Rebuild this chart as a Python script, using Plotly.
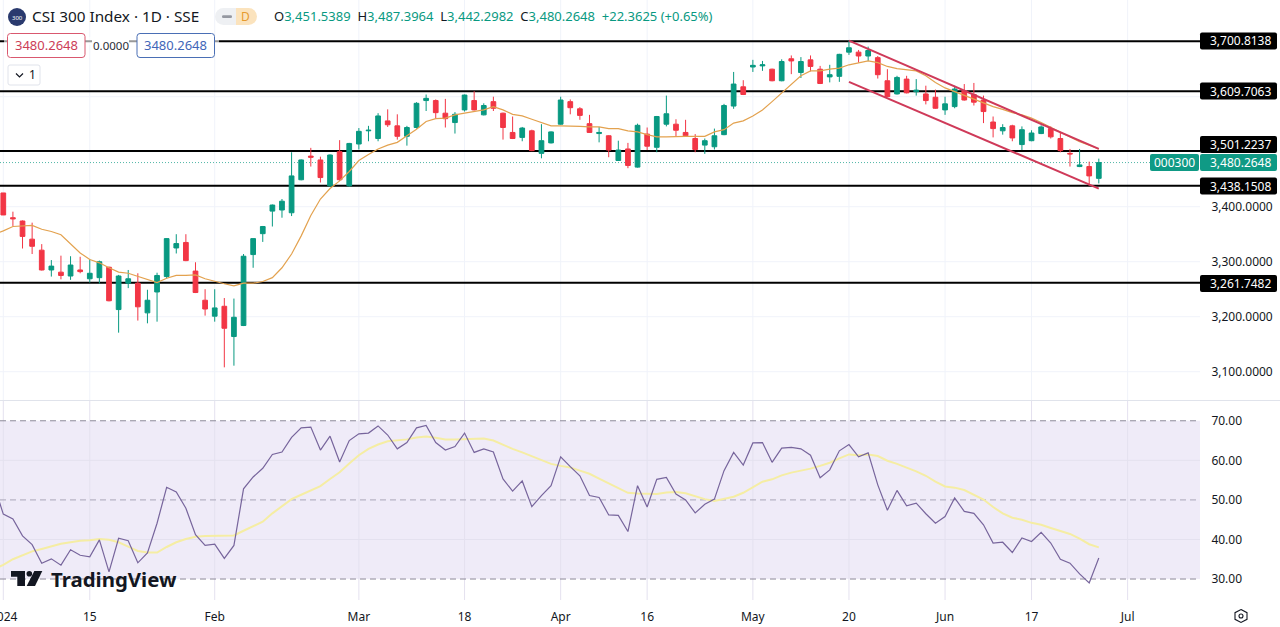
import plotly.graph_objects as go

# daily bars, CSI 300, 2 Jan - 26 Jun 2024 (trading days only)
OPEN = [3425, 3380, 3374, 3341, 3321, 3285, 3281, 3274, 3285, 3269,
        3271, 3290, 3213, 3261, 3261, 3207, 3245, 3273, 3325, 3335,
        3283, 3230, 3201, 3219, 3164, 3184, 3313, 3351, 3392, 3394,
        3389, 3449, 3492, 3485, 3438, 3500, 3438, 3514, 3538, 3524,
        3556, 3547, 3528, 3544, 3593, 3593, 3570, 3553, 3576, 3593,
        3567, 3591, 3570, 3535, 3526, 3538, 3497, 3516, 3550, 3591,
        3578, 3551, 3533, 3529, 3484, 3505, 3472, 3532, 3508, 3550,
        3550, 3535, 3524, 3512, 3509, 3531, 3583, 3618, 3654, 3656,
        3650, 3629, 3669, 3644, 3667, 3650, 3636, 3637, 3681, 3681,
        3674, 3671, 3629, 3605, 3632, 3609, 3605, 3599, 3576, 3582,
        3611, 3604, 3594, 3554, 3538, 3547, 3513, 3520, 3533, 3542,
        3524, 3497, 3473, 3473, 3451.54]
HIGH = [3425, 3391, 3375, 3371, 3332, 3303, 3311, 3310, 3309, 3305,
        3302, 3291, 3276, 3285, 3279, 3249, 3280, 3343, 3350, 3350,
        3299, 3250, 3250, 3234, 3233, 3314, 3342, 3365, 3404, 3414,
        3499, 3486, 3507, 3491, 3495, 3521, 3516, 3543, 3547, 3570,
        3577, 3568, 3547, 3590, 3604, 3595, 3596, 3572, 3604, 3610,
        3588, 3600, 3571, 3564, 3545, 3540, 3550, 3537, 3600, 3595,
        3581, 3567, 3545, 3530, 3520, 3516, 3551, 3544, 3565, 3602,
        3559, 3558, 3532, 3524, 3542, 3587, 3645, 3630, 3667, 3665,
        3651, 3668, 3675, 3672, 3675, 3656, 3658, 3678, 3702, 3685,
        3691, 3674, 3650, 3638, 3638, 3632, 3620, 3613, 3600, 3620,
        3623, 3625, 3602, 3564, 3550, 3549, 3546, 3539, 3548, 3546,
        3534, 3505, 3505, 3482, 3487.40]
LOW = [3385, 3365, 3324, 3314, 3284, 3273, 3268, 3267, 3279, 3262,
       3260, 3228, 3171, 3252, 3193, 3188, 3191, 3269, 3315, 3301,
       3243, 3202, 3191, 3108, 3111, 3183, 3289, 3336, 3364, 3380,
       3383, 3448, 3473, 3444, 3436, 3447, 3436, 3504, 3519, 3519,
       3545, 3522, 3511, 3542, 3574, 3561, 3544, 3533, 3573, 3575,
       3566, 3574, 3522, 3523, 3519, 3501, 3488, 3515, 3549, 3568,
       3558, 3534, 3517, 3490, 3483, 3470, 3471, 3503, 3499, 3546,
       3528, 3527, 3499, 3496, 3504, 3530, 3578, 3603, 3645, 3647,
       3628, 3628, 3641, 3634, 3646, 3623, 3626, 3627, 3676, 3662,
       3665, 3633, 3599, 3604, 3606, 3602, 3586, 3578, 3567, 3579,
       3593, 3584, 3552, 3526, 3531, 3519, 3503, 3519, 3532, 3524,
       3499, 3473, 3472, 3438, 3442.30]
CLOSE = [3385, 3378, 3346, 3328, 3285, 3292, 3275, 3294, 3282, 3279,
         3300, 3229, 3274, 3269, 3218, 3230, 3275, 3342, 3333, 3302,
         3244, 3214, 3216, 3179, 3199, 3310, 3342, 3364, 3403, 3410,
         3456, 3485, 3490, 3453, 3494, 3449, 3515, 3537, 3539, 3565,
         3549, 3528, 3544, 3588, 3597, 3571, 3560, 3568, 3603, 3576,
         3584, 3579, 3544, 3524, 3543, 3502, 3520, 3536, 3594, 3580,
         3566, 3535, 3535, 3503, 3503, 3475, 3548, 3510, 3564, 3569,
         3539, 3529, 3504, 3520, 3529, 3584, 3623, 3604, 3657, 3658,
         3629, 3664, 3665, 3664, 3655, 3624, 3640, 3677, 3689, 3674,
         3684, 3640, 3600, 3635, 3607, 3612, 3593, 3579, 3587, 3614,
         3594, 3590, 3573, 3542, 3544, 3525, 3540, 3534, 3545, 3527,
         3502, 3496, 3476, 3456, 3480.26]
# the line series start one bar earlier, just off the left edge
MA = [3350, 3356, 3364, 3365, 3366, 3359, 3355, 3349, 3332, 3316, 3304,
      3298, 3289, 3281, 3279, 3273, 3267, 3262, 3270, 3275, 3275,
      3276, 3269, 3264, 3260, 3256, 3261, 3261, 3264, 3271, 3289,
      3314, 3347, 3384, 3414, 3433, 3447, 3464, 3484, 3495, 3505,
      3512, 3517, 3529, 3541, 3555, 3560, 3561, 3567, 3570, 3573,
      3576, 3582, 3576, 3568, 3565, 3559, 3553, 3547, 3547, 3547,
      3546, 3545, 3545, 3542, 3542, 3538, 3536, 3531, 3527, 3527,
      3528, 3528, 3528, 3528, 3536, 3540, 3552, 3556, 3565, 3576,
      3591, 3607, 3623, 3638, 3647, 3647, 3650, 3652, 3658, 3662,
      3665, 3662, 3655, 3651, 3649, 3647, 3638, 3626, 3616, 3609,
      3602, 3596, 3588, 3582, 3577, 3571, 3567, 3561, 3553, 3544,
      3535, 3526, 3518, 3512, 3505]
RSI = [54.0, 46.4, 45.2, 40.9, 38.7, 34.0, 35.1, 33.5, 37.4, 36.0, 35.6,
       39.9, 31.8, 40.3, 39.7, 34.1, 36.6, 44.1, 53.2, 52.0, 47.9,
       41.2, 38.5, 38.8, 35.2, 38.5, 52.8, 55.8, 58.0, 61.5, 62.1,
       65.8, 68.2, 68.4, 62.6, 66.1, 59.6, 65.0, 66.7, 66.9, 68.7,
       66.4, 62.9, 64.5, 68.2, 68.8, 64.5, 62.6, 63.5, 66.9, 62.0,
       62.9, 62.1, 55.3, 52.2, 54.8, 48.3, 51.1, 53.6, 60.9, 58.4,
       56.1, 51.1, 50.6, 46.2, 46.1, 42.0, 53.6, 48.2, 55.2, 55.7,
       51.5, 50.0, 46.7, 48.9, 50.2, 57.4, 62.0, 58.8, 64.4, 64.5,
       59.5, 63.1, 63.3, 62.9, 61.3, 55.6, 57.6, 62.4, 64.0, 60.9,
       61.9, 53.8, 47.4, 52.4, 48.5, 49.2, 46.5, 44.1, 45.8, 50.5,
       47.1, 46.6, 43.7, 39.1, 39.3, 36.7, 40.4, 39.5, 41.8, 39.1,
       35.0, 34.0, 31.3, 29.0, 35.3]
RSI_MA = [32.5, 33.6, 35.0, 36.1, 37.0, 37.6, 38.2, 38.9, 39.3, 39.7, 39.8,
          40.1, 39.9, 39.3, 38.2, 37.1, 36.7, 36.7, 38.1, 39.3, 40.1,
          40.7, 40.9, 40.9, 41.0, 41.0, 42.2, 43.3, 44.5, 46.6, 48.5,
          50.2, 51.3, 52.4, 53.5, 55.3, 57.0, 59.2, 61.3, 62.9, 64.0,
          64.8, 65.0, 65.3, 65.8, 66.0, 65.7, 65.3, 65.3, 65.4, 65.5,
          65.5, 65.0, 63.9, 62.9, 62.0, 61.1, 60.1, 59.1, 58.6, 58.2,
          57.4, 56.6, 55.4, 54.2, 52.9, 51.8, 51.6, 51.5, 51.5, 51.9,
          52.0, 51.7, 50.9, 50.2, 49.7, 50.2, 50.8, 51.8, 53.1, 54.6,
          55.2, 56.2, 56.9, 57.4, 57.9, 58.6, 59.4, 60.5, 61.5, 61.3,
          61.5, 61.1, 59.9, 59.1, 58.2, 57.2, 56.1, 54.6, 53.4, 53.1,
          52.5, 51.4, 50.1, 48.2, 46.6, 45.5, 45.0, 44.2, 43.7, 42.9,
          42.1, 41.4, 40.2, 38.8, 38.0]

TICK_POS = [0, 9, 22, 37, 48, 58, 67, 78, 88, 98, 107, 117]
TICK_TEXT = ["", "15", "Feb", "Mar", "18", "Apr", "16", "May", "20", "Jun", "17", "Jul"]
PRICE_TICKS = [3100, 3200, 3300, 3400]
PRICE_TICK_TEXT = ["3,100.0000", "3,200.0000", "3,300.0000", "3,400.0000"]
PRICE_GRID = [3100, 3200, 3300, 3400, 3500, 3600, 3700]
RSI_TICKS = [30, 40, 50, 60, 70]
RSI_TICK_TEXT = ["30.00", "40.00", "50.00", "60.00", "70.00"]
RSI_GRID = [40, 60]

LEVELS = [3700.8138, 3609.7063, 3501.2237, 3438.1508, 3261.7482]
LAST_PRICE = 3480.2648
CHANNEL_X = [88, 114]
CHANNEL_UPPER = [3702, 3505]
CHANNEL_LOWER = [3627, 3433]

W, H = 1280, 627
FONT = "Noto Sans"
GREEN = "#089981"
RED = "#f23645"
INK = "#131722"
GRID = "#f0f3fa"
X_RANGE = [-0.343, 124.53]
P_RANGE = [3048.6, 3775.8]
R_RANGE = [24.7, 75.0]


def px(x):
    return x / W


def py(y):
    return 1 - y / H


def rect(x0, y0, x1, y1, fill, line=None, width=1):
    return dict(type="rect", xref="paper", yref="paper", x0=px(x0), x1=px(x1), y0=py(y0), y1=py(y1),
                fillcolor=fill, line=dict(color=line or fill, width=width if line else 0), layer="above")


def rounded(x0, y0, x1, y1, r, fill, line=None):
    p = (f"M{px(x0 + r)} {py(y0)} L{px(x1 - r)} {py(y0)} Q{px(x1)} {py(y0)} {px(x1)} {py(y0 + r)} "
         f"L{px(x1)} {py(y1 - r)} Q{px(x1)} {py(y1)} {px(x1 - r)} {py(y1)} "
         f"L{px(x0 + r)} {py(y1)} Q{px(x0)} {py(y1)} {px(x0)} {py(y1 - r)} "
         f"L{px(x0)} {py(y0 + r)} Q{px(x0)} {py(y0)} {px(x0 + r)} {py(y0)} Z")
    return dict(type="path", xref="paper", yref="paper", path=p, fillcolor=fill, layer="above",
                line=dict(color=line or fill, width=1 if line else 0))


def disc(x0, y0, x1, y1, fill, line=None):
    return dict(type="circle", xref="paper", yref="paper", x0=px(x0), x1=px(x1), y0=py(y1), y1=py(y0),
                fillcolor=fill, line=dict(color=line or fill, width=1.1 if line else 0), layer="above")


def poly(points, fill="rgba(0,0,0,0)", line=None, width=0):
    path = "M" + " L".join(f"{px(a)} {py(b)}" for a, b in points) + " Z"
    return dict(type="path", xref="paper", yref="paper", path=path, fillcolor=fill,
                line=dict(color=line or fill, width=width), layer="above")


def hline(xref, yref, y, color, width=1, dash="solid"):
    return dict(type="line", xref=xref, yref=yref, x0=X_RANGE[0], x1=X_RANGE[1], y0=y, y1=y,
                line=dict(color=color, width=width, dash=dash), layer="below")


def note(x, y, text, size=13, color=INK, anchor="left", **kw):
    return dict(xref="paper", yref="paper", x=px(x), y=py(y), text=text, showarrow=False,
                xanchor=anchor, yanchor="middle", font=dict(family=FONT, size=size, color=color),
                borderpad=0, **kw)


bars = list(range(len(OPEN)))
line_x = list(range(-1, len(OPEN)))
fig = go.Figure()

fig.add_trace(go.Candlestick(
    x=bars, open=OPEN, high=HIGH, low=LOW, close=CLOSE, xaxis="x", yaxis="y",
    increasing=dict(line=dict(color=GREEN, width=1), fillcolor=GREEN),
    decreasing=dict(line=dict(color=RED, width=1), fillcolor=RED),
    showlegend=False, hoverinfo="skip",
))
fig.add_trace(go.Scatter(x=line_x, y=MA, mode="lines", line=dict(color="#e3a24f", width=1.2),
                         xaxis="x", yaxis="y", showlegend=False, hoverinfo="skip"))
for channel in (CHANNEL_UPPER, CHANNEL_LOWER):
    fig.add_trace(go.Scatter(x=CHANNEL_X, y=channel, mode="lines", line=dict(color="#cf3a59", width=2),
                             xaxis="x", yaxis="y", showlegend=False, hoverinfo="skip"))
fig.add_trace(go.Scatter(x=line_x, y=RSI_MA, mode="lines", line=dict(color="#f5eda3", width=2),
                         xaxis="x2", yaxis="y2", showlegend=False, hoverinfo="skip"))
fig.add_trace(go.Scatter(x=line_x, y=RSI, mode="lines", line=dict(color="#77659c", width=1.2),
                         xaxis="x2", yaxis="y2", showlegend=False, hoverinfo="skip"))

shapes = []
# grid is drawn as shapes so it stays under the black levels
for pos in TICK_POS:
    shapes.append(dict(type="line", xref="x", yref="y", x0=pos, x1=pos, y0=P_RANGE[0], y1=P_RANGE[1],
                       line=dict(color=GRID, width=1), layer="below"))
for val in PRICE_GRID:
    shapes.append(hline("x", "y", val, GRID))
shapes.append(dict(type="rect", xref="x2", yref="y2", x0=X_RANGE[0], x1=X_RANGE[1], y0=30, y1=70,
                   fillcolor="rgba(126,87,194,0.12)", line=dict(width=0), layer="below"))
for pos in TICK_POS:
    shapes.append(dict(type="line", xref="x2", yref="y2", x0=pos, x1=pos, y0=R_RANGE[0], y1=R_RANGE[1],
                       line=dict(color="#e4e1ef", width=1), layer="below"))
for val in RSI_GRID:
    shapes.append(hline("x2", "y2", val, "#e4e1ef"))
shapes.append(hline("x2", "y2", 70, "#8d8a99", dash="6px,4px"))
shapes.append(hline("x2", "y2", 50, "#aaa6b8", dash="6px,4px"))
shapes.append(hline("x2", "y2", 30, "#8d8a99", dash="6px,4px"))
for level in LEVELS:
    shapes.append(hline("x", "y", level, "#000000", width=2))
shapes.append(hline("x", "y", LAST_PRICE, "rgba(8,153,129,0.7)", dash="1px,2px"))
shapes.append(rect(0, 400, 1280, 401, "#e0e3eb"))

# header widgets
shapes.append(disc(8, 8, 26, 26, "#2a3a6e"))
shapes.append(disc(215, 8, 232, 25, "#eef0f3"))
shapes.append(rect(223.5, 8, 236, 25, "#eef0f3"))
shapes.append(disc(240, 8, 257, 25, "#fbe3bd"))
shapes.append(rect(236, 8, 248.5, 25, "#fbe3bd"))
shapes.append(rounded(222, 15.3, 232, 18, 1.3, "#9598a1"))
shapes.append(rect(4, 37, 219, 45, "rgba(255,255,255,0.6)"))
shapes.append(rect(92, 37, 129, 52, "#ffffff"))
shapes.append(rounded(7.5, 33.5, 85, 57.5, 3, "#ffffff", "#d9586f"))
shapes.append(rounded(137, 33.5, 214.5, 57.5, 3, "#ffffff", "#4a6fb5"))
shapes.append(rounded(8, 65, 40, 85, 2, "#ffffff", "#e0e3eb"))
shapes.append(dict(type="path", xref="paper", yref="paper", layer="above", line=dict(color=INK, width=1.2),
                   path=f"M{px(16)} {py(73.5)} L{px(19.5)} {py(77)} L{px(23)} {py(73.5)}"))

# TradingView mark
shapes.append(poly([(11, 571), (25, 571), (25, 586), (17.3, 586), (17.3, 576.7), (11, 576.7)], INK))
shapes.append(disc(26.5, 570.9, 32.1, 576.5, INK))
shapes.append(poly([(42.3, 571), (34.3, 571), (26.7, 586), (35, 586)], INK))

# settings icon, bottom right
shapes.append(poly([(1241, 609.5), (1247, 612.7), (1247, 619.3), (1241, 622.5), (1235, 619.3), (1235, 612.7)],
                   line=INK, width=1.1))
shapes.append(disc(1239, 614, 1243, 618, "rgba(0,0,0,0)", INK))

notes = [
    note(17, 17.5, "300", size=6, color="#ffffff", anchor="center"),
    note(31, 16.5, "CSI 300 Index · 1D · SSE", size=15.3),
    note(245.5, 16.5, "D", size=12, color="#e69a2e", anchor="center"),
    note(273, 16.5,
         "O<span style='color:#089981'>3,451.5389</span>  H<span style='color:#089981'>3,487.3964</span>"
         "  L<span style='color:#089981'>3,442.2982</span>  C<span style='color:#089981'>3,480.2648</span>"
         "  <span style='color:#089981'>+22.3625 (+0.65%)</span>", size=13),
    note(46.5, 45.5, "3480.2648", size=13, color="#cc3d57", anchor="center"),
    note(110.5, 45.5, "0.0000", size=11.5, color="#2a2e39", anchor="center"),
    note(175.5, 45.5, "3480.2648", size=13, color="#3f66b8", anchor="center"),
    note(32, 75, "1", size=12, color=INK, anchor="center"),
    note(50, 579, "<b>TradingView</b>", size=20.4, color=INK),
    note(-11, 616, "2024", size=12, color=INK),
]
for y, label in [(41, "3,700.8138"), (91, "3,609.7063"), (144.5, "3,501.2237"), (186, "3,438.1508"), (283.5, "3,261.7482")]:
    shapes.append(rounded(1200, y - 8.5, 1277, y + 8.5, 2, "#000000"))
    notes.append(note(1240, y, label, size=12, color="#ffffff", anchor="center"))
shapes.append(rounded(1150, 154, 1199, 171, 2, "#0f9a85"))
shapes.append(rounded(1200, 154, 1277, 171, 2, "#0f9a85"))
notes.append(note(1174, 162.5, "000300", size=12, color="#ffffff", anchor="center"))
notes.append(note(1240, 162.5, "3,480.2648", size=12, color="#ffffff", anchor="center"))

fig.update_layout(
    width=W, height=H, margin=dict(l=0, r=0, t=0, b=0),
    paper_bgcolor="#ffffff", plot_bgcolor="#ffffff",
    font=dict(family=FONT, size=12, color=INK),
    showlegend=False, shapes=shapes, annotations=notes,
    xaxis=dict(domain=[0, px(1200)], range=X_RANGE, anchor="y", rangeslider=dict(visible=False),
               showticklabels=False, showgrid=False, ticks="", zeroline=False, showline=False),
    xaxis2=dict(domain=[0, px(1200)], range=X_RANGE, anchor="y2", tickvals=TICK_POS, ticktext=TICK_TEXT,
                showgrid=False, ticks="outside", ticklen=6, tickcolor="rgba(0,0,0,0)", zeroline=False,
                showline=False, tickfont=dict(size=12, color=INK)),
    yaxis=dict(domain=[py(400), 1], range=P_RANGE, side="right", anchor="x",
               tickvals=PRICE_TICKS, ticktext=PRICE_TICK_TEXT, showgrid=False,
               ticks="outside", ticklen=8, tickcolor="rgba(0,0,0,0)", zeroline=False, showline=False,
               tickfont=dict(size=12, color=INK)),
    yaxis2=dict(domain=[py(600), py(401)], range=R_RANGE, side="right", anchor="x2",
                tickvals=RSI_TICKS, ticktext=RSI_TICK_TEXT, showgrid=False,
                ticks="outside", ticklen=8, tickcolor="rgba(0,0,0,0)", zeroline=False, showline=False,
                tickfont=dict(size=12, color=INK)),
)

fig.write_html("out.html", config=dict(displayModeBar=False),
               post_script="document.body.style.margin='0';document.body.style.overflow='hidden';")
